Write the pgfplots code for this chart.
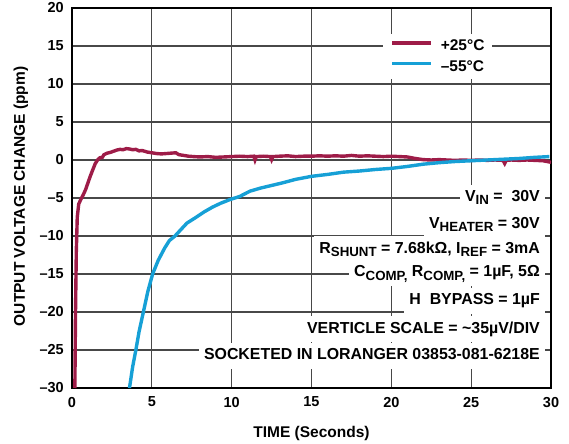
\documentclass[border=0pt]{standalone}
\usepackage{fontspec}
\setmainfont{Liberation Sans}
\usepackage{pgfplots}
\pgfplotsset{compat=1.18}
\definecolor{redc}{RGB}{158,28,72}
\definecolor{bluec}{RGB}{22,160,214}
\definecolor{gridc}{RGB}{72,72,72}
\newcommand\sub[1]{\raisebox{-3.3bp}{\fontsize{13.3bp}{13bp}\selectfont\bfseries #1}}
\newcommand\lbl{\fontsize{15.5bp}{18bp}\selectfont\bfseries}
\newcommand\ann{\fontsize{15.9bp}{18bp}\selectfont\bfseries}
\tikzset{anno/.style={fill=white, anchor=base east, inner xsep=5bp, inner ysep=4bp, text height=13bp, text depth=5bp, font=\ann}}
\begin{document}
\begin{tikzpicture}
\path[use as bounding box] (-72bp,-56bp) rectangle (497bp,388bp);
\begin{axis}[
 at={(0,0)}, anchor=south west,
 scale only axis, width=479bp, height=380bp,
 xmin=0, xmax=30, ymin=-30, ymax=20,
 xtick={0,5,10,15,20,25,30},
 xticklabels={0,5,10,15,20,25,30},
 ytick={-30,-25,-20,-15,-10,-5,0,5,10,15,20},
 yticklabels={--30,--25,--20,--15,--10,--5,0,5,10,15,20},
 major tick length=0pt,
 grid=major,
 major grid style={gridc, line width=1.2bp},
 axis line style={black, line width=2bp},
 tick label style={font=\fontsize{14.5bp}{17bp}\selectfont\bfseries},
 xticklabel style={yshift=-5.5bp},
 yticklabel style={xshift=-4.7bp},
 xlabel={TIME (Seconds)},
 ylabel={OUTPUT VOLTAGE CHANGE (ppm)},
 label style={font=\lbl},
 xlabel style={at={(axis description cs:0.5,-0.1197)}, anchor=center},
 ylabel style={at={(axis description cs:-0.1065,0.504)}, anchor=center},
 legend style={at={(rel axis cs:0.6493,0.931)}, anchor=north west, draw=none, fill=white,
   font=\lbl, inner xsep=7bp, inner ysep=5bp, row sep=6.6bp, column sep=8bp,
   nodes={inner sep=0pt, text height=11bp, text depth=3bp}},
 legend cell align=left,
 legend image code/.code={\draw[#1, line width=3.6bp] (0bp,3.5bp) -- (39bp,3.5bp);},
]
\addplot[redc, line width=3.4bp] coordinates {
(0.18,-30) (0.22,-20) (0.27,-12) (0.33,-7.5) (0.42,-5.8) (0.55,-5.2) (0.7,-4.6)
(0.85,-3.9) (1.0,-3.0) (1.15,-2.1) (1.3,-1.3) (1.45,-0.5) (1.6,0.0) (1.75,0.3)
(1.9,0.35) (2.0,0.7) (2.2,0.9) (2.4,1.0) (2.6,1.15) (2.8,1.3) (3.0,1.4) (3.2,1.35)
(3.4,1.5) (3.6,1.45) (3.8,1.35) (4.0,1.4) (4.2,1.2) (4.4,1.25) (4.7,1.05) (5.0,0.95)
(5.3,0.85) (5.6,0.8) (5.9,0.85) (6.2,0.9) (6.5,0.95) (6.7,0.7) (7.0,0.6) (7.3,0.5)
(7.6,0.45) (8.0,0.4) (8.5,0.45) (9.0,0.35) (9.5,0.4) (10.0,0.45) (10.5,0.5) (11.0,0.45)
(11.38,0.5) (11.46,0.0) (11.54,0.45) (12.0,0.5) (12.42,0.45) (12.5,0.05) (12.58,0.45)
(13.0,0.5) (13.5,0.55) (14.0,0.45) (14.5,0.5) (15.0,0.5) (15.5,0.55) (16.0,0.5)
(16.5,0.55) (17.0,0.5) (17.5,0.6) (18.0,0.5) (18.5,0.55) (19.0,0.5) (19.5,0.45)
(20.0,0.5) (20.5,0.45) (21.0,0.4) (21.5,0.2) (22.0,0.05) (22.5,0.0) (23.0,0.05)
(23.5,0.0) (24.0,-0.05) (24.5,0.0) (25.0,-0.05) (25.5,0.0) (26.0,-0.05) (26.5,0.0)
(27.0,-0.05) (27.1,-0.45) (27.2,-0.05) (27.5,0.0) (28.0,-0.05) (28.5,0.0) (29.0,-0.05)
(29.5,-0.1) (30.0,-0.3)
};
\addlegendentry{+25°C}
\addplot[bluec, line width=3.4bp] coordinates {
(3.6,-30) (3.8,-27.2) (4.0,-25) (4.2,-22.6) (4.47,-20) (4.75,-17.3) (5.05,-15)
(5.4,-13.2) (5.8,-11.6) (6.1,-10.6) (6.45,-10) (6.8,-9.2) (7.2,-8.3) (7.8,-7.5)
(8.3,-6.8) (8.8,-6.2) (9.3,-5.7) (9.9,-5.2) (10.5,-4.8) (11.15,-4.1) (11.8,-3.7)
(12.5,-3.35) (13.2,-3.0) (14.0,-2.55) (15.0,-2.15) (16.0,-1.9) (17.0,-1.6)
(18.0,-1.45) (19.0,-1.25) (20.0,-1.1) (21.0,-0.85) (22.0,-0.55) (23.0,-0.35)
(24.0,-0.2) (25.0,-0.1) (26.0,0.0) (27.0,0.1) (28.0,0.2) (29.0,0.35) (29.9,0.45)
};
\addlegendentry{--55°C}
\node[anno] at (rel axis cs:0.9875,0.4903) {V\sub{IN} =\ \ 30V};
\node[anno] at (rel axis cs:0.9875,0.4205) {V\sub{HEATER} = 30V};
\node[anno] at (rel axis cs:0.9875,0.3547) {R\sub{SHUNT} = 7.68kΩ, I\sub{REF} = 3mA};
\node[anno] at (rel axis cs:0.9875,0.2929) {C\sub{COMP,} R\sub{COMP,} = 1µF, 5Ω};
\node[anno] at (rel axis cs:0.9875,0.2192) {H\ \ BYPASS = 1µF};
\node[anno] at (rel axis cs:0.9875,0.1442) {VERTICLE SCALE = \textasciitilde35µV/DIV};
\node[anno] at (rel axis cs:0.9875,0.0745) {SOCKETED IN LORANGER 03853-081-6218E};
\end{axis}
\end{tikzpicture}
\end{document}
